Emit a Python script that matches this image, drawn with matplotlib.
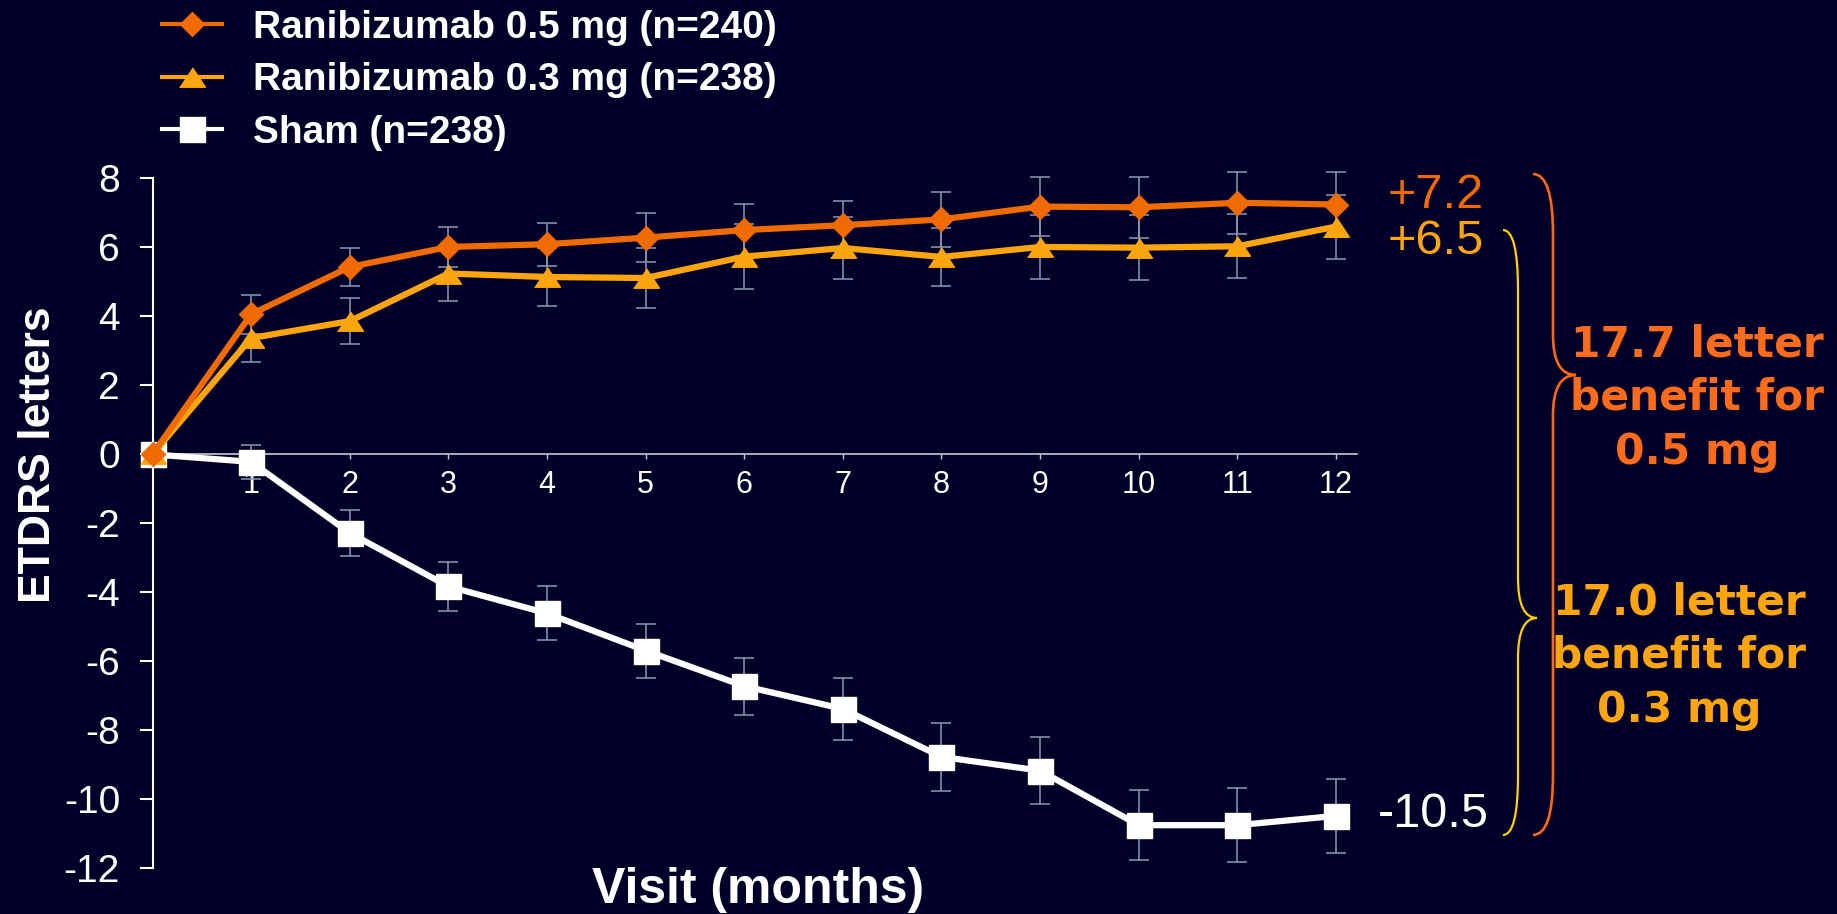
import matplotlib as mpl
mpl.use('Agg')
import matplotlib.pyplot as plt
from matplotlib.lines import Line2D
from matplotlib.path import Path
from matplotlib.patches import PathPatch

# data
months = [0, 1, 2, 3, 4, 5, 6, 7, 8, 9, 10, 11, 12]
rbz05 = [0, 4.06, 5.43, 6.01, 6.09, 6.28, 6.5, 6.64, 6.81, 7.18, 7.16, 7.29, 7.24]
rbz05_err = [0, 0.57, 0.55, 0.58, 0.62, 0.7, 0.76, 0.69, 0.8, 0.85, 0.89, 0.9, 0.93]
rbz03 = [0, 3.37, 3.86, 5.24, 5.14, 5.11, 5.73, 5.98, 5.72, 6.01, 5.99, 6.03, 6.6]
rbz03_err = [0, 0.7, 0.67, 0.8, 0.84, 0.87, 0.95, 0.9, 0.85, 0.93, 0.94, 0.93, 0.93]
sham = [0, -0.22, -2.28, -3.83, -4.61, -5.69, -6.72, -7.38, -8.77, -9.17, -10.75, -10.75, -10.48]
sham_err = [0, 0.5, 0.67, 0.71, 0.78, 0.78, 0.83, 0.9, 0.98, 0.97, 1.02, 1.08, 1.07]
labels = ['Ranibizumab 0.5 mg (n=240)', 'Ranibizumab 0.3 mg (n=238)', 'Sham (n=238)']
yticks = [8, 6, 4, 2, 0, -2, -4, -6, -8, -10, -12]
xticks = [1, 2, 3, 4, 5, 6, 7, 8, 9, 10, 11, 12]

BG = '#000028'
ORANGE = '#EF6A00'
AMBER = '#FDA50F'
WHITE = '#FFFFFF'
ERR = '#8C9BB0'

plt.rcParams['font.family'] = ['Liberation Sans', 'DejaVu Sans']
plt.rcParams['axes.unicode_minus'] = False

W, H = 1837, 914
fig = plt.figure(figsize=(W / 100, H / 100), dpi=100, facecolor=BG)
ax = fig.add_axes([0.08302, 0.05, 0.65552, 0.75492])
ax.set_facecolor(BG)

tri = [(-1, -0.75), (1, -0.75), (0, 0.75)]
series = [
    (sham, sham_err, WHITE, 's', 18, 3),
    (rbz03, rbz03_err, AMBER, tri, 18.7, 4),
    (rbz05, rbz05_err, ORANGE, 'D', 12.7, 5),
]
for vals, err, col, mk, ms, z in series:
    eb = ax.errorbar(months, vals, yerr=err, fmt='none', ecolor=ERR,
                     elinewidth=1.1, capsize=7, capthick=1.1, zorder=2)
    for art in eb.lines[1] + eb.lines[2]:
        art.set_clip_on(False)
    ax.plot(months, vals, color=col, lw=4.5, marker=mk, ms=ms, mec=col,
            mfc=col, zorder=z, clip_on=False)

ax.set_xlim(0, 12.21)
ax.set_ylim(-12, 8)
ax.set_xticks(xticks)
ax.set_yticks(yticks)
ax.set_yticklabels([str(t) for t in yticks])
ax.spines['top'].set_visible(False)
ax.spines['right'].set_visible(False)
ax.spines['bottom'].set_position(('data', 0))
ax.spines['bottom'].set_color('#C8C8D2')
ax.spines['bottom'].set_linewidth(1.2)
ax.spines['left'].set_color(WHITE)
ax.spines['left'].set_linewidth(1.5)
ax.tick_params(axis='y', colors=WHITE, labelsize=28, length=9.4, width=1.5, pad=14)
ax.tick_params(axis='x', colors='#C8C8D2', labelcolor=WHITE, labelsize=22,
               length=3.6, width=1, pad=8)

fig.text(39 / W, 1 - 455 / H, 'ETDRS letters', rotation=90, color=WHITE,
         fontsize=32, fontweight='bold', ha='center', va='center')
fig.text(758 / W, 1 - 903 / H, 'Visit (months)', color=WHITE, fontsize=36,
         fontweight='bold', ha='center', va='baseline')

# end values
ax.text(13.5, 7.5, '+7.2', color=ORANGE, fontsize=35, ha='right', va='center')
ax.text(13.5, 6.17, '+6.5', color=AMBER, fontsize=35, ha='right', va='center')
ax.text(13.55, -10.45, '-10.5', color=WHITE, fontsize=35, ha='right', va='center')


def brace(x_end, x_mid, x_tip, y_top, y_tip, y_bot, color, lw, r_end=60, r_tip=40):
    pts = [(x_end, y_top), (x_mid, y_top), (x_mid, y_top + r_end),
           (x_mid, y_tip - r_tip), (x_mid, y_tip), (x_tip, y_tip),
           (x_mid, y_tip), (x_mid, y_tip + r_tip),
           (x_mid, y_bot - r_end), (x_mid, y_bot), (x_end, y_bot)]
    codes = [Path.MOVETO, Path.CURVE3, Path.CURVE3, Path.LINETO,
             Path.CURVE3, Path.CURVE3, Path.CURVE3, Path.CURVE3,
             Path.LINETO, Path.CURVE3, Path.CURVE3]
    verts = [(x / W, 1 - y / H) for x, y in pts]
    fig.patches.append(PathPatch(Path(verts, codes), transform=fig.transFigure,
                                 fill=False, edgecolor=color, lw=lw))


brace(1533, 1553, 1576, 174, 375, 835, '#FF6A10', 1.9)
brace(1503, 1518, 1537, 230, 618, 835, '#FFD200', 1.6)

fig.text(1697 / W, 1 - 398 / H, '17.7 letter\nbenefit for\n0.5 mg', color='#FA6B1C',
         family='DejaVu Sans', fontsize=30.5, fontweight='bold', ha='center',
         va='center', linespacing=1.36)
fig.text(1679 / W, 1 - 656 / H, '17.0 letter\nbenefit for\n0.3 mg', color=AMBER,
         family='DejaVu Sans', fontsize=30.5, fontweight='bold', ha='center',
         va='center', linespacing=1.36)

handles = [
    Line2D([], [], color=ORANGE, lw=3, marker='D', ms=12.7),
    Line2D([], [], color=AMBER, lw=3, marker=tri, ms=18.7),
    Line2D([], [], color=WHITE, lw=3, marker='s', ms=18),
]
fig.legend(handles, labels, loc='upper left', bbox_to_anchor=(162 / W, 1 - 10 / H),
           frameon=False, borderpad=0, borderaxespad=0, handlelength=1.55,
           handletextpad=0.8, labelspacing=0.42, labelcolor=WHITE,
           prop=dict(family='Liberation Sans', weight='bold', size=28))

fig.savefig('out.png', dpi=100, facecolor=BG)
